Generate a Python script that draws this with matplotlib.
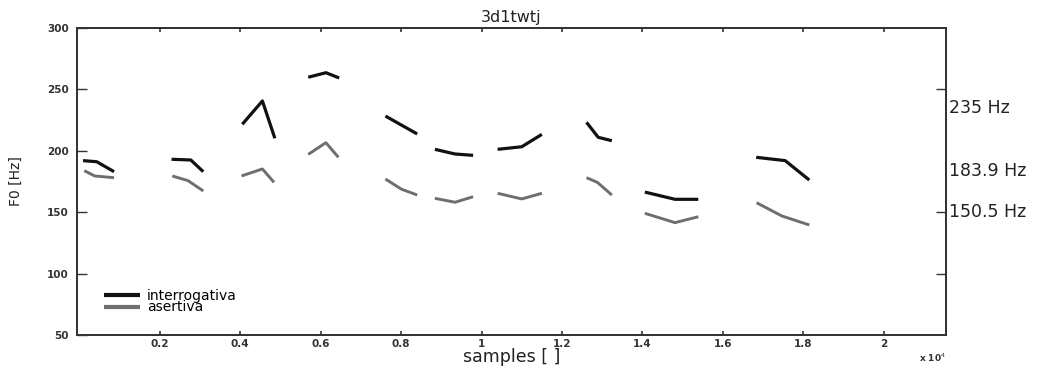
import matplotlib.pyplot as plt
from matplotlib.ticker import FormatStrFormatter

# muestras (x 10^4) y F0 [Hz], un tramo por palabra
x_interrogativa = [
    [0.009, 0.043, 0.086],
    [0.229, 0.277, 0.308],
    [0.405, 0.455, 0.486],
    [0.569, 0.613, 0.646],
    [0.761, 0.840],
    [0.884, 0.934, 0.979],
    [1.040, 1.100, 1.150],
    [1.261, 1.290, 1.324],
    [1.406, 1.481, 1.539],
    [1.683, 1.755, 1.815],
]
f0_interrogativa = [
    [192.0, 191.1, 183.0],
    [193.1, 192.5, 183.0],
    [221.6, 240.6, 210.2],
    [259.9, 263.6, 259.3],
    [228.3, 213.7],
    [201.2, 197.4, 196.3],
    [201.2, 203.3, 213.4],
    [223.2, 211.0, 208.2],
    [166.4, 160.5, 160.5],
    [194.7, 192.0, 176.2],
]
x_asertiva = [
    [0.012, 0.038, 0.086],
    [0.231, 0.270, 0.308],
    [0.403, 0.455, 0.484],
    [0.569, 0.613, 0.644],
    [0.761, 0.801, 0.840],
    [0.884, 0.934, 0.979],
    [1.040, 1.100, 1.150],
    [1.261, 1.288, 1.324],
    [1.406, 1.481, 1.539],
    [1.684, 1.747, 1.815],
]
f0_asertiva = [
    [183.8, 179.5, 178.1],
    [179.5, 175.7, 167.3],
    [179.5, 185.2, 174.3],
    [197.1, 206.6, 194.7],
    [177.0, 168.7, 164.0],
    [161.3, 158.1, 162.6],
    [165.4, 160.8, 165.4],
    [178.1, 174.3, 164.0],
    [149.1, 141.5, 146.3],
    [157.7, 146.9, 139.6],
]

x_ticks = [0.2, 0.4, 0.6, 0.8, 1.0, 1.2, 1.4, 1.6, 1.8, 2.0]
y_ticks = [50, 100, 150, 200, 250, 300]
ticks_derecha = [100, 150, 250]
marcas_f0 = [235, 183.9, 150.5]
etiquetas_f0 = ['235 Hz', '183.9 Hz', '150.5 Hz']

fig = plt.figure(figsize=(10.55, 3.68), dpi=100)
ax = fig.add_axes([0.073, 0.0897, 0.8237, 0.8342])

for i, (xs, ys) in enumerate(zip(x_interrogativa, f0_interrogativa)):
    ax.plot(xs, ys, color='#111111', lw=2.3, solid_capstyle='butt',
            label='interrogativa' if i == 0 else None)
for i, (xs, ys) in enumerate(zip(x_asertiva, f0_asertiva)):
    ax.plot(xs, ys, color='#6e6e6e', lw=2.1, solid_capstyle='butt',
            label='asertiva' if i == 0 else None)

ax.set_xlim(-0.006, 2.155)
ax.set_ylim(50, 300)
ax.set_xticks(x_ticks)
ax.set_yticks(y_ticks)
ax.xaxis.set_major_formatter(FormatStrFormatter('%g'))
ax.tick_params(axis='x', direction='in', length=3, width=1.2, top=True,
               labelsize=7.5, colors='#333333', pad=3)
ax.tick_params(axis='y', direction='in', length=7, width=1.0, left=True,
               labelsize=7.5, colors='#333333', pad=6)
for lab in ax.get_xticklabels() + ax.get_yticklabels():
    lab.set_fontweight('bold')

# ticks del lado derecho
ax2 = ax.twinx()
ax2.set_ylim(50, 300)
ax2.set_yticks(ticks_derecha)
ax2.tick_params(axis='y', direction='in', length=7, width=1.0,
                labelright=False, colors='#333333')

for s in list(ax.spines.values()) + list(ax2.spines.values()):
    s.set_linewidth(1.3)
    s.set_color('#333333')

for v, t in zip(marcas_f0, etiquetas_f0):
    ax.text(1.003, v, t, transform=ax.get_yaxis_transform(),
            ha='left', va='center', fontsize=12.5, color='#222222')

ax.set_title('3d1twtj', fontsize=11.5, pad=4, color='#222222')
ax.set_xlabel('samples [ ]', fontsize=12.5, labelpad=-1, color='#222222')
ax.set_ylabel('F0 [Hz]', fontsize=10, color='#222222')
ax.yaxis.set_label_coords(-0.062, 0.5)
ax.text(1.0, -0.075, r'x 10$^4$', transform=ax.transAxes, ha='right',
        va='center', fontsize=6.5, fontweight='bold', color='#333333')

ax.legend(loc='center left', bbox_to_anchor=(0.031, 0.109), frameon=False,
          fontsize=10, handlelength=2.6, handletextpad=0.5, labelspacing=-0.15,
          borderpad=0, borderaxespad=0)
leg = ax.get_legend()
for h in leg.get_lines():
    h.set_linewidth(3.0)

plt.savefig('out.png', dpi=100)
